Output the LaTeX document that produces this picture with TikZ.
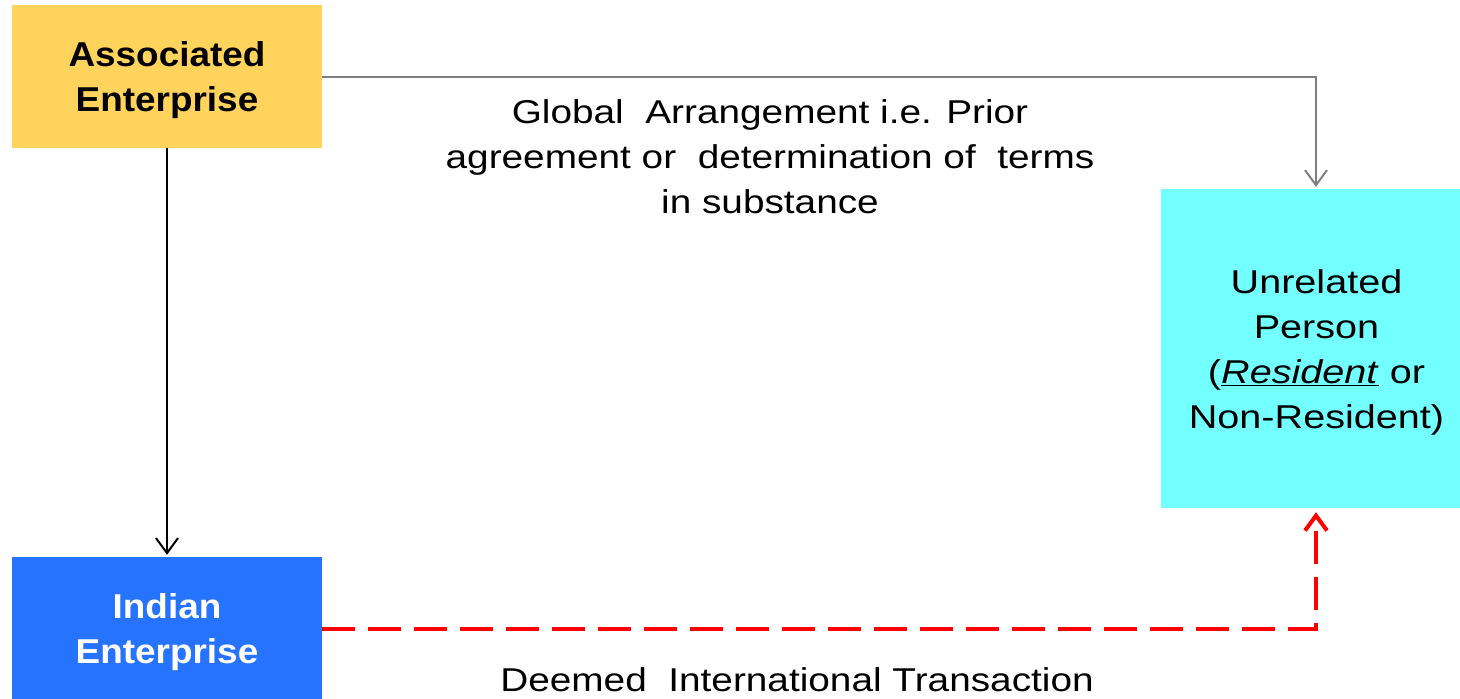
\documentclass[tikz,border=0pt]{standalone}
\usepackage{fontspec}
\setmainfont{Liberation Sans}[FakeStretch=1.2]
\newfontfamily\headfont{Liberation Sans}[FakeStretch=1.07]
\newfontfamily\captionfont{Liberation Sans}[FakeStretch=1.175]
\usetikzlibrary{arrows.meta}
\definecolor{aeyellow}{HTML}{FFD35C}
\definecolor{ieblue}{HTML}{2673FF}
\definecolor{upcyan}{HTML}{73FFFF}
\definecolor{linkgray}{HTML}{7F7F7F}
\definecolor{deemedred}{HTML}{FF0000}
\begin{document}
\begin{tikzpicture}[x=1pt,y=-1pt,
  box/.style={rectangle, inner sep=0pt},
  boxtext/.style={align=center, inner sep=0pt, yshift=-4pt,
    font=\fontsize{33}{45}\selectfont},
  headtext/.style={boxtext,
    font=\headfont\fontsize{34.5}{45}\selectfont\bfseries},
  label/.style={align=center, inner sep=0pt,
    font=\captionfont\fontsize{33}{45}\selectfont},
  barb/.style={-{Straight Barb[length=15pt,width=22pt]}},
  flow/.style={barb, line width=2pt},
]
\useasboundingbox (0,0) rectangle (1460,699);

% entities
\node[box, fill=aeyellow, minimum width=310pt, minimum height=143pt]
  (ae) at (167,76.5) {};
\node[headtext] (aetext) at (ae.center) {Associated\\Enterprise};
\node[box, fill=ieblue, minimum width=310pt, minimum height=143pt]
  (ie) at (167,628.5) {};
\node[headtext, text=white] (ietext) at (ie.center) {Indian\\Enterprise};
\node[box, fill=upcyan, minimum width=299pt, minimum height=319pt]
  (up) at (1310.5,348.5) {};
\node[boxtext] (uptext) at ([xshift=6pt]up.center)
  {Unrelated\\Person\\(\underline{\textit{Resident}} or\\Non-Resident)};

% relations
\draw[flow, draw=linkgray, shorten >=2pt]
  (ae.east) -| ([xshift=5.5pt]up.north);
\draw[flow, draw=black, shorten >=2pt]
  (ae.south) -- (ie.north);
\draw[barb, draw=deemedred, line width=4pt, dash pattern=on 33pt off 13pt,
      shorten >=4pt]
  (ie.east) -| ([xshift=5.5pt]up.south);

% captions
\node[label] (global) at (770,157)
  {Global\ \ Arrangement i.e. Prior\\agreement or\ \ determination of\ \ terms\\in substance};
\node[label] (deemed) at (797,680) {Deemed\ \ International Transaction};
\end{tikzpicture}
\end{document}
